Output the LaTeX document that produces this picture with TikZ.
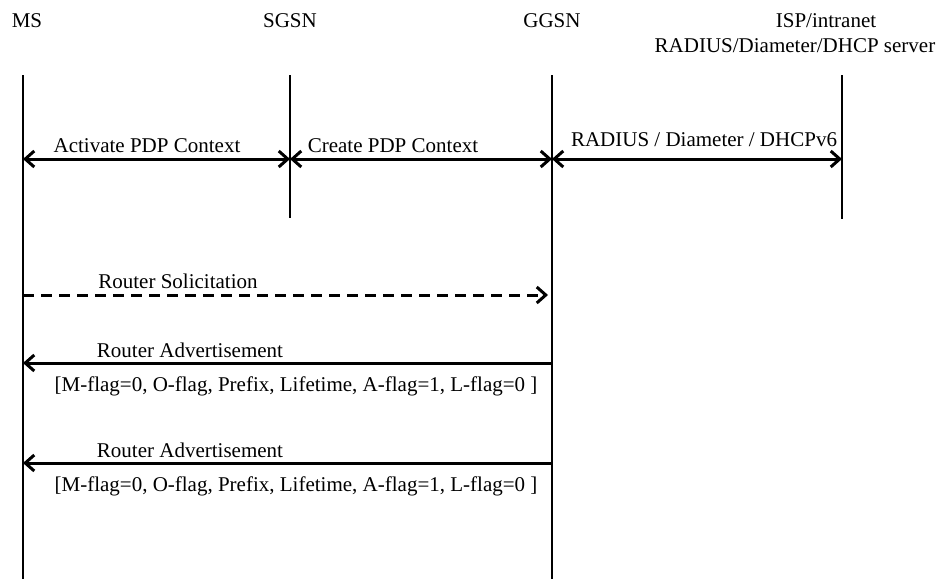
\documentclass[tikz,border=0pt]{standalone}
\usepackage{fontspec}
\setmainfont{Liberation Serif}
\usetikzlibrary{arrows.meta,positioning}

\begin{document}
\begin{tikzpicture}[x=1pt, y=-1pt, font=\fontsize{21}{25}\selectfont,
  life/.style={line width=2pt},
  msg/.style={line width=3pt, -{Straight Barb[length=9pt,width=16pt]}},
  both/.style={line width=3pt, {Straight Barb[length=9pt,width=16pt]}-{Straight Barb[length=9pt,width=16pt]}},
  lbl/.style={anchor=base, inner sep=0pt}]
 \useasboundingbox (0,0) rectangle (944,579);
 % entities
 \node[lbl] (ms) at (27,27) {MS};
 \node[lbl] (sgsn) at (290,27) {SGSN};
 \node[lbl] (ggsn) at (552,27) {GGSN};
 \node[lbl] (isp) at (826,27) {ISP/intranet};
 \node[lbl] (srv) at (795,52) {RADIUS/Diameter/DHCP server};
 % lifelines
 \foreach \n/\x/\b in {ms/23/579, sgsn/290/218, ggsn/552/579, isp/842/219} {
  \coordinate (\n-top) at (\x,75);
  \coordinate (\n-bot) at (\x,\b);
  \draw[life] (\n-top) -- (\n-bot);
 }
 % message end points
 \foreach \n in {ms,sgsn,ggsn,isp} \coordinate (\n-a) at (\n-top |- 0,159);
 \coordinate (ms-b) at (ms-top |- 0,295);
 \coordinate (ggsn-b) at ([xshift=-4pt]ggsn-top |- 0,295);
 \coordinate (ms-c) at (ms-top |- 0,363);
 \coordinate (ggsn-c) at (ggsn-top |- 0,363);
 \coordinate (ms-d) at (ms-top |- 0,463);
 \coordinate (ggsn-d) at (ggsn-top |- 0,463);
 % PDP context set-up
 \draw[both] (ms-a) -- (sgsn-a);
 \draw[both] (sgsn-a) -- (ggsn-a);
 \draw[both] (ggsn-a) -- (isp-a);
 \node[lbl] (act) at (147,152) {Activate PDP Context};
 \node[lbl] (cre) at (393,152) {Create PDP Context};
 \node[lbl] (rad) at (704,146) {RADIUS / Diameter / DHCPv6};
 % router discovery
 \draw[msg, dash pattern=on 11pt off 7pt] (ms-b) -- (ggsn-b);
 \node[lbl] (rs) at (178,288) {Router Solicitation};
 \draw[msg] (ggsn-c) -- (ms-c);
 \node[lbl] (ra1) at (190,357) {Router Advertisement};
 \node[lbl] (opt1) at (296,391) {[M-flag=0, O-flag, Prefix, Lifetime, A-flag=1, L-flag=0 ]};
 \draw[msg] (ggsn-d) -- (ms-d);
 \node[lbl] (ra2) at (190,457) {Router Advertisement};
 \node[lbl] (opt2) at (296,491) {[M-flag=0, O-flag, Prefix, Lifetime, A-flag=1, L-flag=0 ]};
\end{tikzpicture}
\end{document}
